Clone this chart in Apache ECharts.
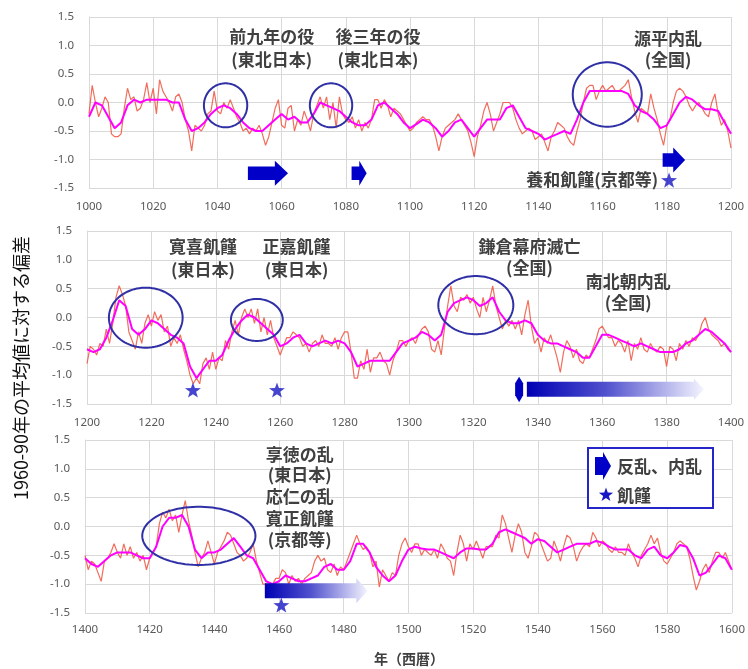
<!DOCTYPE html>
<html><head><meta charset="utf-8">
<script src="https://cdn.jsdelivr.net/npm/echarts@6/dist/echarts.min.js"></script>
<style>html,body{margin:0;padding:0;background:#fff}#c{width:748px;height:669px}</style>
</head><body><div id="c"></div>
<script>
// ---------- data ----------
const xRanges = [[1000, 1200], [1200, 1400], [1400, 1600]];
const yTickLabels = ['-1.5', '-1.0', '-0.5', '0.0', '0.5', '1.0', '1.5'];

// annual values (red), one per year from start of range
const annual1 = [
 -0.2, 0.3, 0.0, -0.25, -0.1, 0.1, 0.0, -0.55, -0.6, -0.6,
 -0.55, -0.1, 0.25, 0.05, 0.1, -0.15, -0.1, 0.05, 0.35, 0.0,
 0.25, -0.2, 0.4, 0.2, 0.1, 0.0, -0.15, 0.1, 0.15, 0.0,
 -0.3, -0.5, -0.85, -0.4, -0.45, -0.5, -0.4, -0.2, -0.15, 0.2,
 -0.15, -0.2, 0.0, -0.1, 0.05, -0.1, -0.25, -0.35, -0.5, -0.45,
 -0.55, -0.45, -0.5, -0.4, -0.55, -0.75, -0.6, -0.35, -0.1, 0.05,
 -0.4, -0.45, -0.1, -0.05, -0.5, -0.3, -0.4, -0.15, -0.3, -0.5,
 -0.2, -0.05, 0.1, -0.1, 0.1, -0.3, 0.0, -0.45, 0.1, -0.2,
 -0.3, -0.35, -0.25, -0.45, -0.3, -0.5, -0.35, -0.45, -0.3, 0.05,
 0.05, -0.1, 0.05, -0.05, -0.25, -0.1, -0.15, -0.2, -0.3, -0.4,
 -0.5, -0.45, -0.35, -0.3, -0.25, -0.3, -0.3, -0.4, -0.6, -0.85,
 -0.6, -0.45, -0.4, -0.35, -0.3, -0.2, -0.3, -0.4, -0.5, -0.7,
 -0.95, -0.6, -0.4, -0.15, 0.0, -0.2, -0.5, -0.35, -0.2, 0.0,
 0.0, 0.0, -0.1, -0.3, -0.45, -0.55, -0.5, -0.45, -0.5, -0.65,
 -0.6, -0.55, -0.7, -0.85, -0.6, -0.5, -0.35, -0.4, -0.45, -0.6,
 -0.7, -0.75, -0.5, -0.3, 0.0, 0.25, 0.3, 0.3, 0.05, 0.2,
 0.3, 0.2, 0.25, 0.3, 0.2, 0.2, 0.25, 0.3, 0.4, 0.1,
 -0.15, -0.35, -0.1, -0.15, -0.2, 0.15, -0.1, -0.3, -0.55, -0.75,
 -0.4, -0.3, 0.0, 0.2, 0.25, 0.2, 0.1, -0.05, -0.15, -0.05,
 0.0, -0.1, -0.2, -0.25, 0.0, 0.15, -0.2, -0.4, -0.3, -0.5,
 -0.8
];
const annual2 = [
 -0.8, -0.5, -0.55, -0.65, -0.45, -0.5, -0.2, -0.45, -0.1, 0.35,
 0.55, 0.4, 0.2, -0.25, -0.4, -0.55, -0.25, -0.45, -0.1, 0.05,
 -0.15, 0.1, -0.05, 0.05, -0.25, -0.15, -0.5, -0.35, -0.45, -0.3,
 -0.55, -0.75, -1.0, -1.15, -1.05, -1.15, -0.8, -0.7, -0.9, -0.6,
 -0.9, -0.7, -0.75, -0.4, -0.55, -0.25, -0.05, -0.3, 0.0, 0.15,
 0.0, 0.15, -0.1, 0.15, -0.25, 0.0, -0.3, -0.05, -0.35, -0.5,
 -0.65, -0.5, -0.35, -0.35, -0.25, -0.3, -0.35, -0.5, -0.45, -0.6,
 -0.45, -0.4, -0.5, -0.3, -0.45, -0.45, -0.5, -0.35, -0.55, -0.35,
 -0.25, -0.25, -0.6, -1.05, -1.05, -0.75, -0.9, -0.55, -0.95, -0.7,
 -0.7, -0.6, -0.75, -0.8, -1.0, -0.75, -0.6, -0.4, -0.4, -0.5,
 -0.4, -0.35, -0.45, -0.3, -0.2, -0.15, -0.25, -0.55, -0.6, -0.4,
 -0.65, -0.2, 0.2, 0.55, 0.2, 0.1, 0.35, 0.3, 0.4, 0.25,
 0.35, 0.15, 0.0, 0.35, 0.1, 0.3, 0.55, 0.2, 0.0, -0.2,
 -0.05, -0.15, -0.05, -0.2, -0.05, -0.3, 0.05, 0.3, -0.15, -0.45,
 -0.35, -0.6, -0.35, -0.45, -0.3, -0.5, -0.7, -0.95, -0.6, -0.4,
 -0.5, -0.7, -0.55, -0.75, -0.8, -0.65, -0.7, -0.55, -0.4, -0.2,
 -0.15, -0.25, -0.35, -0.35, -0.5, -0.4, -0.45, -0.6, -0.4, -0.75,
 -0.45, -0.55, -0.35, -0.55, -0.6, -0.45, -0.55, -0.6, -0.5, -0.55,
 -0.85, -0.5, -0.55, -0.75, -0.45, -0.55, -0.4, -0.5, -0.35, -0.4,
 -0.3, -0.1, 0.0, -0.2, -0.3, -0.35, -0.4, -0.5, -0.45, -0.55,
 -0.6
];
const annual3 = [
 -0.5, -0.75, -0.6, -0.65, -0.8, -0.95, -0.6, -0.55, -0.45, -0.3,
 -0.45, -0.55, -0.3, -0.5, -0.35, -0.55, -0.45, -0.6, -0.5, -0.75,
 -0.55, -0.45, -0.35, 0.05, 0.25, 0.15, 0.3, 0.1, 0.2, -0.1,
 0.2, 0.45, 0.1, -0.15, -0.45, -0.7, -0.55, -0.45, -0.25, -0.45,
 -0.65, -0.45, -0.35, -0.25, -0.1, -0.15, -0.3, -0.45, -0.5, -0.6,
 -0.55, -0.45, -0.3, -0.6, -0.8, -1.0, -1.0, -1.05, -1.0, -0.9,
 -0.9, -0.75, -0.8, -1.0, -0.85, -0.95, -0.9, -1.0, -0.9, -0.85,
 -0.8, -0.6, -0.5, -0.6, -0.55, -0.75, -0.8, -0.65, -0.85, -0.7,
 -0.75, -0.6, -0.45, -0.3, -0.15, -0.3, -0.4, -0.35, -0.45, -0.7,
 -0.6, -1.05, -0.75, -0.85, -0.95, -0.8, -0.85, -0.5, -0.3, -0.2,
 -0.35, -0.45, -0.3, -0.3, -0.5, -0.4, -0.45, -0.5, -0.4, -0.55,
 -0.3, -0.4, -0.55, -0.6, -0.85, -0.45, -0.15, -0.3, -0.6, -0.3,
 -0.4, -0.25, -0.4, -0.55, -0.35, -0.35, -0.35, -0.15, -0.2, 0.2,
 0.05, -0.2, -0.45, -0.15, 0.05, -0.1, -0.45, -0.55, -0.35, -0.1,
 -0.15, -0.3, -0.45, -0.6, -0.55, -0.25, -0.4, -0.6, -0.35, -0.15,
 -0.2, -0.35, -0.6, -0.45, -0.35, -0.3, -0.35, -0.1, -0.2, -0.35,
 -0.25, -0.3, -0.4, -0.45, -0.35, -0.45, -0.45, -0.5, -0.3, -0.45,
 -0.55, -0.7, -0.5, -0.4, -0.3, -0.15, -0.3, -0.2, -0.45, -0.6,
 -0.65, -0.55, -0.45, -0.3, -0.25, -0.3, -0.35, -0.55, -0.85, -1.1,
 -0.95, -0.75, -0.65, -0.8, -0.6, -0.45, -0.45, -0.55, -0.45, -0.6,
 -0.75
];

// smoothed values (magenta), one per 2 years from start of range
const smooth1 = [
 -0.25, 0.0, -0.05, -0.25, -0.45, -0.35, -0.05, 0.05, 0.0, 0.05,
 0.05, 0.05, 0.05, 0.0, 0.0, -0.3, -0.5, -0.45, -0.35, -0.2,
 -0.1, -0.05, -0.1, -0.2, -0.35, -0.45, -0.5, -0.5, -0.4, -0.3,
 -0.2, -0.3, -0.25, -0.35, -0.35, -0.2, 0.0, -0.05, -0.1, -0.15,
 -0.25, -0.35, -0.4, -0.4, -0.3, -0.05, 0.0, -0.1, -0.2, -0.35,
 -0.45, -0.38, -0.3, -0.35, -0.45, -0.6, -0.5, -0.35, -0.3, -0.45,
 -0.6, -0.45, -0.3, -0.3, -0.3, -0.1, -0.05, -0.25, -0.45, -0.5,
 -0.55, -0.65, -0.6, -0.55, -0.5, -0.55, -0.3, 0.0, 0.2, 0.2,
 0.2, 0.2, 0.2, 0.2, 0.15, -0.05, -0.15, -0.2, -0.3, -0.45,
 -0.4, -0.2, 0.0, 0.1, 0.05, -0.05, -0.12, -0.12, -0.15, -0.35,
 -0.55
];
const smooth2 = [
 -0.55, -0.6, -0.55, -0.35, -0.05, 0.3, 0.2, -0.2, -0.3, -0.2,
 -0.05, -0.1, -0.2, -0.3, -0.35, -0.45, -0.85, -1.05, -0.9, -0.75,
 -0.75, -0.65, -0.4, -0.2, -0.05, 0.05, 0.0, -0.1, -0.2, -0.3,
 -0.5, -0.45, -0.35, -0.3, -0.45, -0.5, -0.45, -0.4, -0.45, -0.4,
 -0.45, -0.6, -0.85, -0.8, -0.75, -0.75, -0.75, -0.75, -0.6, -0.45,
 -0.4, -0.35, -0.25, -0.3, -0.4, -0.3, 0.1, 0.25, 0.3, 0.35,
 0.3, 0.2, 0.25, 0.35, 0.1, -0.05, -0.1, -0.1, -0.05, -0.1,
 -0.3, -0.4, -0.45, -0.45, -0.5, -0.55, -0.6, -0.7, -0.7, -0.5,
 -0.3, -0.3, -0.35, -0.4, -0.45, -0.5, -0.45, -0.5, -0.55, -0.6,
 -0.6, -0.6, -0.55, -0.45, -0.4, -0.3, -0.2, -0.25, -0.35, -0.45,
 -0.6
];
const smooth3 = [
 -0.55, -0.65, -0.7, -0.6, -0.5, -0.45, -0.45, -0.45, -0.5, -0.55,
 -0.55, -0.35, 0.0, 0.15, 0.15, 0.2, 0.0, -0.4, -0.55, -0.45,
 -0.45, -0.4, -0.3, -0.2, -0.35, -0.5, -0.55, -0.75, -0.95, -1.0,
 -0.95, -0.85, -0.9, -0.95, -0.95, -0.9, -0.85, -0.7, -0.65, -0.75,
 -0.75, -0.6, -0.3, -0.3, -0.45, -0.7, -0.85, -0.95, -0.85, -0.6,
 -0.4, -0.35, -0.38, -0.4, -0.4, -0.45, -0.5, -0.55, -0.45, -0.38,
 -0.38, -0.4, -0.4, -0.3, -0.1, -0.05, -0.1, -0.15, -0.2, -0.3,
 -0.22, -0.25, -0.35, -0.45, -0.4, -0.35, -0.3, -0.3, -0.3, -0.25,
 -0.28, -0.35, -0.4, -0.4, -0.4, -0.5, -0.55, -0.4, -0.35, -0.5,
 -0.55, -0.45, -0.32, -0.35, -0.55, -0.85, -0.8, -0.65, -0.5, -0.55,
 -0.75
];

// famine stars: [panel, year, value]
const famineStars = [[0, 1180.7, -1.36], [1, 1232.9, -1.257], [1, 1259.0, -1.257], [2, 1460.7, -1.361]];
// highlighted periods (ellipses): [panel, yearFrom, yearTo, valueTop, valueBottom]
const ellipses = [
 [0, 1035.8, 1049.3, 0.337, -0.435], [0, 1068.8, 1082.0, 0.337, -0.435], [0, 1150.7, 1172.2, 0.705, -0.425],
 [1, 1206.8, 1229.7, 0.517, -0.524], [1, 1244.7, 1260.8, 0.321, -0.407], [1, 1309.1, 1332.4, 0.72, -0.291],
 [2, 1417.7, 1452.7, 0.343, -0.668]
];
// rebellion arrows (solid): [panel, yearStart, yearHead, yearTip, value]
const solidArrows = [[0, 1049.5, 1057.9, 1062.0, -1.242], [0, 1081.8, 1084.2, 1086.5, -1.242], [0, 1178.7, 1182.0, 1185.7, -1.009]];
// rebellion arrows (fading): [panel, yearStart, yearHead, yearTip, value]
const fadeArrows = [[1, 1336.6, 1388.5, 1391.6, -1.243], [2, 1455.6, 1483.9, 1487.4, -1.115]];
const arrowTails = [[1, 1334.2, -1.243]];
// annotation labels: [panel, year, value, text, align]
const labels = [
 [0, 1056.9, 1.149, '前九年の役', 'center'], [0, 1056.9, 0.746, '(東北日本)', 'center'],
 [0, 1090.0, 1.149, '後三年の役', 'center'], [0, 1090.0, 0.746, '(東北日本)', 'center'],
 [0, 1180.4, 1.13, '源平内乱', 'center'], [0, 1180.4, 0.746, '(全国)', 'center'],
 [0, 1177.3, -1.36, '養和飢饉(京都等)', 'right'],
 [1, 1236.0, 1.228, '寛喜飢饉', 'center'], [1, 1236.0, 0.824, '(東日本)', 'center'],
 [1, 1265.1, 1.228, '正嘉飢饉', 'center'], [1, 1265.1, 0.824, '(東日本)', 'center'],
 [1, 1337.4, 1.228, '鎌倉幕府滅亡', 'center'], [1, 1337.4, 0.858, '(全国)', 'center'],
 [1, 1368.1, 0.621, '南北朝内乱', 'center'], [1, 1368.1, 0.251, '(全国)', 'center'],
 [2, 1466.4, 1.24, '享徳の乱', 'center'], [2, 1466.4, 0.893, '(東日本)', 'center'],
 [2, 1466.4, 0.517, '応仁の乱', 'center'], [2, 1466.4, 0.142, '寛正飢饉', 'center'],
 [2, 1466.4, -0.234, '(京都等)', 'center']
];
const legendItems = ['反乱、内乱', '飢饉'];
const yTitle = '1960-90年の平均値に対する偏差';
const xTitle = '年（西暦）';

// ---------- chart ----------
const annual = [annual1, annual2, annual3];
const smooth = [smooth1, smooth2, smooth3];
const chart = echarts.init(document.getElementById('c'));
const grids = [
 {left: 89, top: 17, width: 642, height: 171},
 {left: 87, top: 231, width: 644, height: 173},
 {left: 85, top: 440, width: 648, height: 173}
];
const xMargins = [13, 13, 11];
const GRID = '#d9d9d9';
const starPath = 'path://M0,-10 L2.35,-3.24 L9.51,-3.09 L3.8,1.24 L5.88,8.09 L0,4 L-5.88,8.09 L-3.8,1.24 L-9.51,-3.09 L-2.35,-3.24 Z';
const xAxis = [], yAxis = [], series = [];
for (let g = 0; g < 3; g++) {
  xAxis.push({type: 'value', gridIndex: g, min: xRanges[g][0], max: xRanges[g][1], interval: 20,
    axisLine: {show: true, lineStyle: {color: GRID}}, axisTick: {show: false},
    axisLabel: {color: '#595959', fontSize: 11.5, fontFamily: 'Noto Sans', margin: xMargins[g], showMinLabel: true, showMaxLabel: true,
      formatter: v => String(Math.round(v))},
    splitLine: {show: true, lineStyle: {color: GRID, width: 1}}});
  yAxis.push({type: 'value', gridIndex: g, min: -1.5, max: 1.5, interval: 0.5,
    axisLine: {show: true, lineStyle: {color: GRID}}, axisTick: {show: false},
    axisLabel: {color: '#595959', fontSize: 11.5, fontFamily: 'Noto Sans', margin: 15,
      formatter: v => yTickLabels[Math.round((v + 1.5) / 0.5)]},
    splitLine: {show: true, lineStyle: {color: GRID, width: 1}}});
  const x0 = xRanges[g][0];
  series.push({type: 'line', xAxisIndex: g, yAxisIndex: g, symbol: 'none', z: 2,
    data: annual[g].map((v, i) => [x0 + i, v]),
    lineStyle: {color: '#EF5440', width: 1.2, opacity: 0.85}});
  series.push({type: 'line', xAxisIndex: g, yAxisIndex: g, symbol: 'none', z: 3,
    data: smooth[g].map((v, i) => [x0 + 2 * i, v]),
    lineStyle: {color: '#FF00FF', width: 2}});
  series.push({type: 'scatter', xAxisIndex: g, yAxisIndex: g, z: 6,
    data: famineStars.filter(s => s[0] === g).map(s => [s[1], s[2]]),
    symbol: starPath, symbolSize: 16, symbolKeepAspect: true,
    itemStyle: {color: '#1717C4'}});
}
chart.setOption({animation: false, grid: grids, xAxis, yAxis, series});

// ---------- annotations positioned through the axes ----------
const P = (g, x, y) => chart.convertToPixel({xAxisIndex: g, yAxisIndex: g}, [x, y]);
const gfx = [];
const TXT = {fill: '#404040', fontSize: 17, fontWeight: 'bold', fontFamily: '"Noto Sans CJK JP", sans-serif'};
ellipses.forEach(e => {
  const a = P(e[0], e[1], e[3]), b = P(e[0], e[2], e[4]);
  const cx = (a[0] + b[0]) / 2, cy = (a[1] + b[1]) / 2, rx = Math.abs(b[0] - a[0]) / 2, ry = Math.abs(b[1] - a[1]) / 2;
  const pts = [];
  for (let k = 0; k < 90; k++) { const t = k / 90 * Math.PI * 2; pts.push([cx + rx * Math.cos(t), cy + ry * Math.sin(t)]); }
  gfx.push({type: 'polygon', z: 100, silent: true, shape: {points: pts}, style: {fill: 'none', stroke: '#2F2FA6', lineWidth: 2}});
});
solidArrows.forEach(a => {
  const s = P(a[0], a[1], a[4]), h = P(a[0], a[2], a[4]), t = P(a[0], a[3], a[4]);
  const y = s[1], sh = 6.7, hh = 12.5;
  gfx.push({type: 'polygon', z: 100, silent: true, shape: {points: [[s[0], y - sh], [h[0], y - sh], [h[0], y - hh], [t[0], y], [h[0], y + hh], [h[0], y + sh], [s[0], y + sh]]},
    style: {fill: '#0000C8'}});
});
fadeArrows.forEach((a, i) => {
  const s = P(a[0], a[1], a[4]), h = P(a[0], a[2], a[4]), t = P(a[0], a[3], a[4]);
  const y = s[1], sh = 7.5, hh = i === 0 ? 10.5 : 12.5;
  gfx.push({type: 'polygon', z: 100, silent: true, shape: {points: [[s[0], y - sh], [h[0], y - sh], [h[0], y - hh], [t[0], y], [h[0], y + hh], [h[0], y + sh], [s[0], y + sh]]},
    style: {fill: new echarts.graphic.LinearGradient(0, 0, 1, 0, [
      {offset: 0, color: '#0000B4'}, {offset: 0.45, color: '#5252CE'}, {offset: 1, color: '#F4F4FF'}])}});
});
arrowTails.forEach(a => {
  const c = P(a[0], a[1], a[2]);
  gfx.push({type: 'polygon', z: 100, silent: true, shape: {points: [[c[0], c[1] - 12.5], [c[0] + 4, c[1] - 6], [c[0] + 4, c[1] + 6], [c[0], c[1] + 13], [c[0] - 4, c[1] + 6], [c[0] - 4, c[1] - 6]]},
    style: {fill: '#0000C0'}});
});
labels.forEach(l => {
  const p = P(l[0], l[1], l[2]);
  gfx.push({type: 'text', z: 100, silent: true, x: p[0], y: p[1],
    style: Object.assign({text: l[3], align: l[4], verticalAlign: 'middle', textAlign: l[4], textVerticalAlign: 'middle'}, TXT)});
});
// legend box
const starPts = (cx, cy, R) => { const p = []; for (let k = 0; k < 10; k++) { const r = k % 2 ? R * 0.4 : R; const t = -Math.PI / 2 + k * Math.PI / 5; p.push([cx + r * Math.cos(t), cy + r * Math.sin(t)]); } return p; };
gfx.push({type: 'rect', z: 100, silent: true, shape: {x: 588, y: 448, width: 125, height: 60}, style: {fill: '#fff', stroke: '#2626C8', lineWidth: 2}});
gfx.push({type: 'polygon', z: 101, silent: true, shape: {points: [[595, 457], [603, 457], [603, 452], [611, 466], [603, 480], [603, 475], [595, 475]]}, style: {fill: '#0000C8'}});
gfx.push({type: 'polygon', z: 101, silent: true, shape: {points: starPts(606, 495, 7.5)}, style: {fill: '#1717C4'}});
gfx.push({type: 'text', z: 101, silent: true, x: 617, y: 467, style: Object.assign({text: legendItems[0], align: 'left', verticalAlign: 'middle', textAlign: 'left', textVerticalAlign: 'middle'}, TXT)});
gfx.push({type: 'text', z: 101, silent: true, x: 617, y: 496, style: Object.assign({text: legendItems[1], align: 'left', verticalAlign: 'middle', textAlign: 'left', textVerticalAlign: 'middle'}, TXT)});
// axis titles
gfx.push({type: 'text', z: 100, silent: true, x: 21, y: 368, rotation: Math.PI / 2,
  style: {text: yTitle, fill: '#111', fontSize: 18, fontFamily: '"Noto Sans CJK JP", sans-serif', align: 'center', verticalAlign: 'middle', textAlign: 'center', textVerticalAlign: 'middle'}});
gfx.push({type: 'text', z: 100, silent: true, x: 409, y: 659,
  style: {text: xTitle, fill: '#404040', fontSize: 14, fontWeight: 'bold', fontFamily: '"Noto Sans CJK JP", sans-serif', align: 'center', verticalAlign: 'middle', textAlign: 'center', textVerticalAlign: 'middle'}});
chart.setOption({graphic: gfx});
</script>
</body></html>
